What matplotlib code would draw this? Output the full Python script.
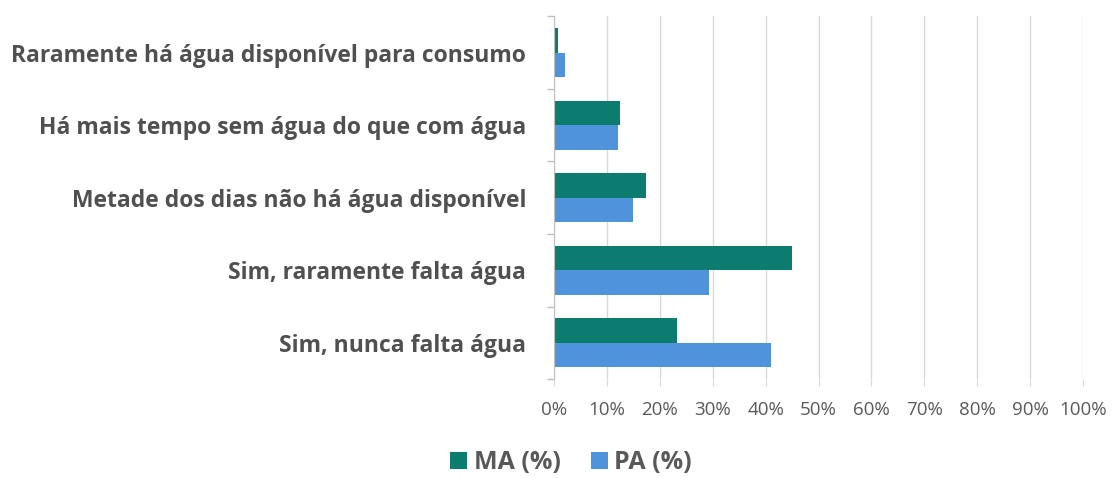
import matplotlib
matplotlib.use("Agg")
import matplotlib.pyplot as plt
import numpy as np
from matplotlib.ticker import PercentFormatter

categories = [
    "Sim, nunca falta água",
    "Sim, raramente falta água",
    "Metade dos dias não há água disponível",
    "Há mais tempo sem água do que com água",
    "Raramente há água disponível para consumo",
]
ma_values = [23.3, 44.9, 17.3, 12.5, 0.8]
pa_values = [41.0, 29.3, 15.0, 12.0, 2.0]
x_ticks = [0, 10, 20, 30, 40, 50, 60, 70, 80, 90, 100]

MA_COLOR = "#0C7C6F"
PA_COLOR = "#4F93DB"
TEXT = "#505050"

plt.rcParams['font.family'] = ['Open Sans', 'DejaVu Sans']

fig = plt.figure(figsize=(11.15, 4.78), dpi=100)
ax = fig.add_axes([0.4969, 0.2071, 0.4744, 0.7584])

y = np.arange(len(categories))
h = 0.335
ax.barh(y + h / 2, ma_values, height=h, color=MA_COLOR, label="MA (%)", zorder=3)
ax.barh(y - h / 2, pa_values, height=h, color=PA_COLOR, label="PA (%)", zorder=3)

ax.set_xlim(0, 100)
ax.set_ylim(-0.5, len(categories) - 0.5)
ax.set_xticks(x_ticks)
ax.xaxis.set_major_formatter(PercentFormatter(decimals=0))
ax.grid(axis='x', color="#D9D9D9", linewidth=1, zorder=0)

ax.set_yticks(y)
ax.set_yticklabels(categories, fontsize=16.5, fontweight='bold', color=TEXT)
ax.set_yticks(np.arange(-0.5, len(categories), 1), minor=True)
ax.tick_params(axis='y', which='major', length=0, pad=20)
ax.tick_params(axis='y', which='minor', length=5, color="#BFBFBF", width=1)
ax.tick_params(axis='x', length=5, color="#D9D9D9", labelsize=13.5, labelcolor="#595959", pad=11)

for s in ['top', 'right', 'bottom']:
    ax.spines[s].set_visible(False)
ax.spines['left'].set_color("#BFBFBF")
ax.spines['left'].set_zorder(4)

leg = fig.legend(loc='center', bbox_to_anchor=(0.512, 0.032), ncol=2, frameon=False,
                 prop={'family': 'Open Sans', 'weight': 'bold', 'size': 18},
                 handlelength=0.7, handleheight=0.7, handletextpad=0.25, columnspacing=1.2,
                 labelcolor="#595959")

fig.savefig("out.png", dpi=100, facecolor="white")
